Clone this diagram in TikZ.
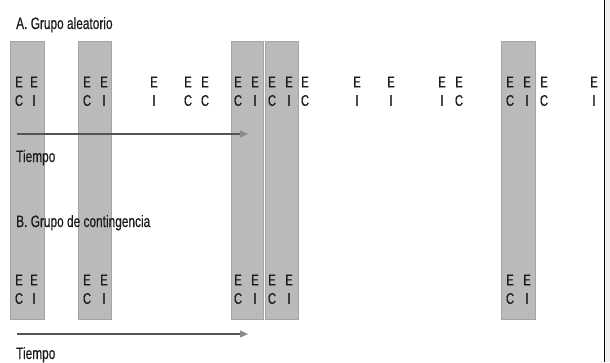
\documentclass[tikz,border=0pt]{standalone}
\usepackage{fontspec}
\setmainfont{Liberation Sans}[FakeStretch=0.72, FakeBold=0.4]
\usetikzlibrary{arrows.meta}
\definecolor{barfill}{HTML}{B9BABC}
\definecolor{baredge}{HTML}{A3A4A6}
\definecolor{arrowgray}{HTML}{555555}
\definecolor{sidegray}{HTML}{F0F0F0}
\definecolor{txt}{HTML}{1A1A1A}
\tikzset{
  bar/.style={fill=barfill, draw=baredge, line width=0.6pt},
  lett/.style={font=\fontsize{15.5}{15.5}\selectfont, text=txt, inner sep=0pt, anchor=center},
  title/.style={font=\fontsize{16.5}{16.5}\selectfont, text=txt, inner sep=0pt, anchor=base west},
  timearrow/.style={draw=arrowgray, line width=1.2pt, -{Triangle[length=8pt,width=7pt,fill=gray!90,color=gray!90]}},
}
\begin{document}
\begin{tikzpicture}[x=1pt,y=-1pt]
\useasboundingbox (0,0) rectangle (610,362);
\fill[white] (0,0) rectangle (610,362);
\fill[sidegray] (605,0) rectangle (610,362);
\draw[black, line width=1.2pt] (604.5,0) -- (604.5,362);
% bars
\foreach \a/\b in {10/44, 78/111, 231/263, 265/298, 501/535}
  \draw[bar] (\a,41) rectangle (\b,319);
% titles
\node[title] (ta) at (16,29) {A. Grupo aleatorio};
\node[title] (tb) at (16,227) {B. Grupo de contingencia};
% row A letters
\foreach \x/\l [count=\i] in {19/C, 34/I, 87/C, 104/I, 154/I, 188/C, 205/C, 238/C, 255/I, 272/C, 289/I, 305/C, 357/I, 391/I, 442/I, 459/C, 510/C, 527/I, 544/C, 594/I} {
  \node[lett] (ae\i) at (\x,82) {E};
  \node[lett] (al\i) at (\x,100.5) {\l};
}
% row B letters
\foreach \x/\l [count=\i] in {19/C, 34/I, 87/C, 104/I, 238/C, 255/I, 272/C, 289/I, 510/C, 527/I} {
  \node[lett] (be\i) at (\x,280) {E};
  \node[lett] (bl\i) at (\x,298.5) {\l};
}
% arrows
\coordinate (a0) at (17,134);
\coordinate (a1) at (248,134);
\draw[timearrow] (a0) -- (a1);
\node[title] (tia) at (16,162) {Tiempo};
\coordinate (b0) at (17,334);
\coordinate (b1) at (248,334);
\draw[timearrow] (b0) -- (b1);
\node[title] (tib) at (16,359) {Tiempo};
\end{tikzpicture}
\end{document}
